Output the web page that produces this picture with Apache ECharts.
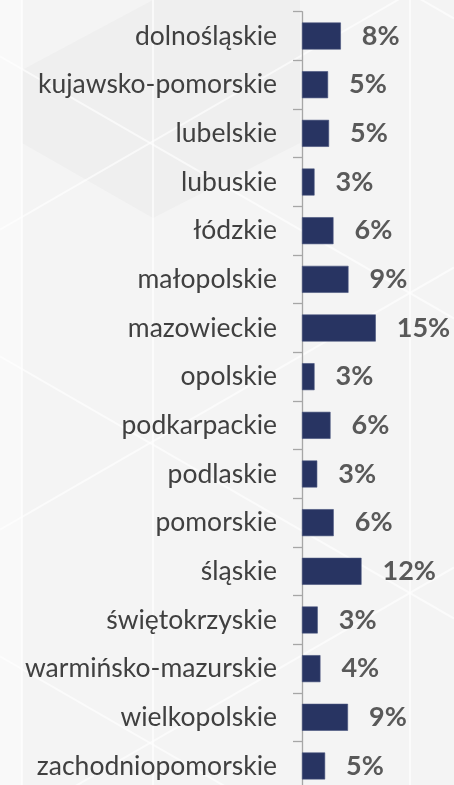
<!DOCTYPE html>
<html>
<head>
<meta charset="utf-8">
<script src="https://cdn.jsdelivr.net/npm/echarts@6/dist/echarts.min.js"></script>
<style>
  html, body { margin: 0; padding: 0; background: #f3f3f3; }
  #chart { width: 454px; height: 785px; }
</style>
</head>
<body>
<div id="chart"></div>
<script>
// voivodeships, top to bottom
const regions = ['dolnośląskie', 'kujawsko-pomorskie', 'lubelskie', 'lubuskie', 'łódzkie', 'małopolskie',
  'mazowieckie', 'opolskie', 'podkarpackie', 'podlaskie', 'pomorskie', 'śląskie', 'świętokrzyskie',
  'warmińsko-mazurskie', 'wielkopolskie', 'zachodniopomorskie']
// share in %
const shares = [7.9, 5.3, 5.5, 2.55, 6.4, 9.45, 15.0, 2.55, 5.8, 3.1, 6.45, 12.1, 3.2, 3.75, 9.35, 4.7]
// labels as printed next to the bars
const shareLabels = ['8%', '5%', '5%', '3%', '6%', '9%', '15%', '3%', '6%', '3%', '6%', '12%', '3%', '4%', '9%', '5%']

const chart = echarts.init(document.getElementById('chart'))

// faint cube pattern of the slide background
const deco = []
const k = Math.tan(Math.PI / 6)
for (let c = -600; c <= 900; c += 300) {
  deco.push({ type: 'line', shape: { x1: 0, y1: c + 143 - 150 * k, x2: 454, y2: c + 143 + 304 * k } })
  deco.push({ type: 'line', shape: { x1: 0, y1: c + 143 + 150 * k, x2: 454, y2: c + 143 - 304 * k } })
}
;[22, 153, 410].forEach(x => deco.push({ type: 'line', shape: { x1: x, y1: 0, x2: x, y2: 785 } }))
deco.forEach(d => {
  d.silent = true
  d.z = -10
  d.style = { stroke: '#ffffff', lineWidth: 2, opacity: 0.6 }
})

const option = {
  backgroundColor: '#f4f4f4',
  animation: false,
  graphic: [
    {
      type: 'polygon', silent: true, z: -20,
      shape: { points: [[0, 0], [22, 0], [22, 785], [0, 785]] },
      style: { fill: '#f9f9f9' }
    },
    {
      type: 'polygon', silent: true, z: -20,
      shape: { points: [[22, 70], [153, 0], [300, 0], [300, 143], [153, 218], [22, 143]] },
      style: { fill: '#efefef' }
    }
  ].concat(deco),
  grid: {
    left: 302,
    right: 4.4,
    top: 11.7,
    height: 778.6,
    containLabel: false,
    outerBoundsMode: 'none'
  },
  xAxis: {
    type: 'value',
    min: 0,
    max: 30,
    show: false
  },
  yAxis: {
    type: 'category',
    inverse: true,
    data: regions,
    axisLine: { show: true, lineStyle: { color: '#a6a6a6', width: 1.3 } },
    axisTick: { show: true, length: 9, lineStyle: { color: '#a6a6a6', width: 1.3 } },
    axisLabel: {
      margin: 25,
      fontFamily: 'Lato',
      fontSize: 26.5,
      color: '#404040',
      padding: [3, 0, 0, 0]
    }
  },
  series: [
    {
      type: 'bar',
      data: shares,
      barWidth: 27,
      itemStyle: { color: '#283462', borderColor: '#46527c', borderWidth: 0.6 },
      label: {
        show: true,
        position: 'right',
        distance: 21,
        fontFamily: 'Lato',
        fontWeight: 'bold',
        fontSize: 27,
        color: '#595959',
        formatter: p => shareLabels[p.dataIndex]
      }
    }
  ]
}
option && chart.setOption(option)
</script>
</body>
</html>
